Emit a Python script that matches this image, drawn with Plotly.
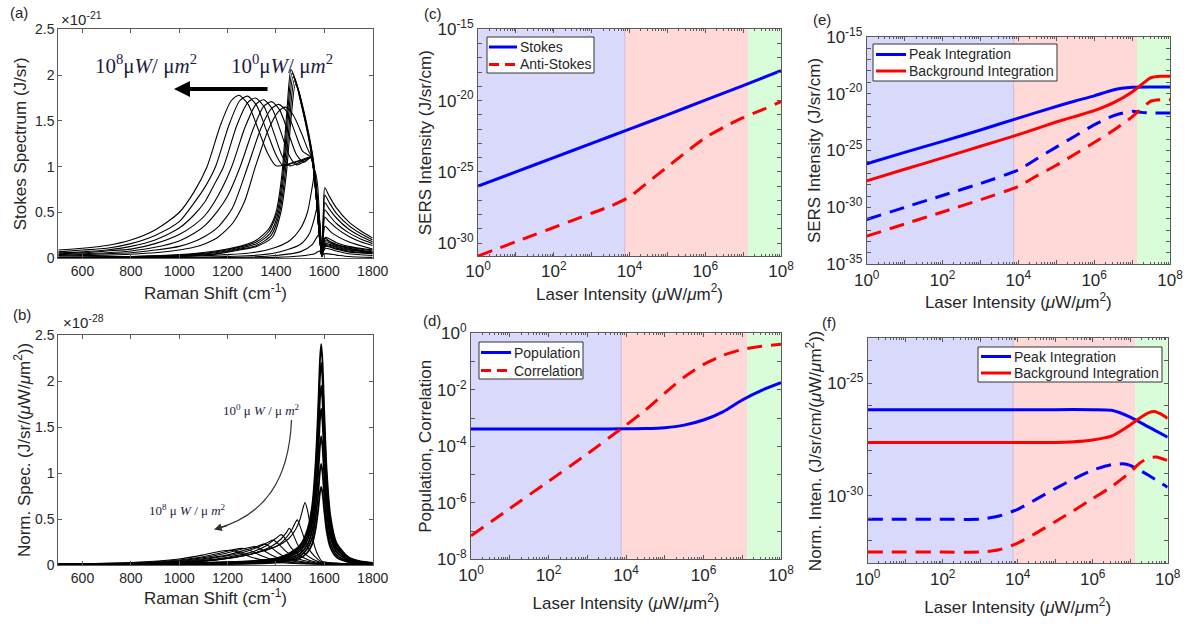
import math
import plotly.graph_objects as go

W, H = 1189, 626

# ---------------- Panel (a): Stokes spectra, y in units of 1e-21 J/sr ----------------
a1 = [(500,.09),(600,.11),(700,.14),(800,.20),(900,.31),(1000,.50),(1060,.72),(1115,1.0),(1170,1.45),(1215,1.72),(1247,1.78),(1285,1.68),(1325,1.42),(1365,1.15),(1400,1.01),(1450,1.03),(1500,1.07),(1545,1.1),(1562,0.8),(1578,0.3),(1590,0.02),(1597,0.1),(1605,0.13),(1650,0.1),(1700,0.07),(1800,0.05)]
a2 = [(500,.07),(600,.09),(700,.11),(800,.16),(900,.25),(1000,.40),(1060,.6),(1107,0.78),(1150,1.0),(1205,1.45),(1250,1.72),(1282,1.77),(1320,1.67),(1360,1.4),(1400,1.13),(1430,1.01),(1470,1.04),(1510,1.07),(1545,1.1),(1562,0.8),(1578,0.3),(1590,0.02),(1597,0.11),(1605,0.14),(1650,0.11),(1700,0.08),(1800,0.05)]
a3 = [(500,.06),(600,.07),(700,.09),(800,.13),(900,.2),(1000,.33),(1060,.47),(1107,.62),(1140,.78),(1183,1.0),(1238,1.45),(1283,1.7),(1315,1.75),(1352,1.65),(1390,1.38),(1425,1.12),(1455,1.01),(1500,1.05),(1545,1.1),(1562,0.8),(1578,0.3),(1590,0.02),(1597,0.12),(1605,0.15),(1650,0.12),(1700,0.09),(1800,0.06)]
a4 = [(500,.05),(600,.06),(700,.08),(800,.1),(900,.16),(1000,.26),(1060,.36),(1107,.47),(1160,.68),(1217,1.0),(1272,1.43),(1317,1.68),(1349,1.73),(1385,1.63),(1420,1.38),(1455,1.12),(1485,1.02),(1520,1.06),(1545,1.1),(1562,0.8),(1578,0.3),(1590,0.02),(1597,0.13),(1605,0.16),(1650,0.13),(1700,0.1),(1800,0.06)]
a5 = [(500,.04),(600,.05),(700,.06),(800,.08),(900,.12),(1000,.19),(1060,.27),(1107,.36),(1160,.52),(1200,.68),(1252,1.0),(1307,1.42),(1350,1.66),(1382,1.71),(1415,1.62),(1450,1.38),(1485,1.13),(1515,1.05),(1545,1.1),(1562,0.8),(1578,0.3),(1590,0.02),(1597,0.14),(1605,0.18),(1650,0.14),(1700,0.11),(1800,0.07)]
a6 = [(500,.03),(600,.04),(700,.05),(800,.06),(900,.09),(1000,.13),(1060,.18),(1107,.24),(1160,.34),(1220,.55),(1283,1.0),(1338,1.42),(1380,1.63),(1412,1.68),(1445,1.6),(1478,1.38),(1510,1.17),(1545,1.1),(1562,0.8),(1578,0.3),(1590,0.02),(1597,0.16),(1605,0.2),(1650,0.15),(1700,0.12),(1800,0.08)]
a7 = [(500,.025),(600,.03),(700,.035),(800,.045),(900,.06),(1000,.09),(1060,.12),(1107,.16),(1160,.23),(1220,.38),(1270,.62),(1315,1.0),(1368,1.4),(1410,1.6),(1440,1.65),(1470,1.57),(1505,1.37),(1530,1.2),(1548,1.1),(1563,0.8),(1578,0.3),(1590,0.02),(1597,0.18),(1605,0.23),(1650,0.17),(1700,0.13),(1800,0.09)]
a8 = [(500,.01),(800,.02),(1000,.04),(1150,.08),(1250,.13),(1320,.2),(1370,.32),(1400,.5),(1424,.9),(1445,1.6),(1462,2.06),(1480,1.95),(1500,1.73),(1520,1.5),(1541,1.22),(1556,.95),(1569,.64),(1580,.3),(1590,.03),(1596,.5),(1602,.77),(1620,.68),(1650,.55),(1700,.4),(1750,.3),(1800,.22)]
a9 = [(500,.01),(800,.02),(1000,.035),(1150,.07),(1250,.12),(1320,.18),(1370,.29),(1405,.5),(1428,.9),(1449,1.6),(1466,2.02),(1484,1.92),(1504,1.7),(1524,1.47),(1544,1.2),(1558,.94),(1570,.63),(1581,.3),(1590,.03),(1596,.45),(1602,.69),(1620,.61),(1650,.49),(1700,.36),(1750,.27),(1800,.2)]
a10 = [(500,.008),(800,.018),(1000,.03),(1150,.06),(1250,.11),(1320,.16),(1375,.27),(1410,.5),(1432,.9),(1453,1.58),(1470,1.98),(1488,1.88),(1508,1.66),(1528,1.43),(1547,1.17),(1560,.92),(1571,.62),(1582,.3),(1590,.03),(1596,.4),(1602,.61),(1620,.54),(1650,.44),(1700,.32),(1750,.24),(1800,.18)]
a11 = [(500,.007),(800,.015),(1000,.027),(1150,.05),(1250,.1),(1320,.14),(1380,.25),(1415,.5),(1437,.9),(1458,1.56),(1475,1.94),(1492,1.85),(1512,1.63),(1531,1.4),(1550,1.14),(1562,.9),(1572,.6),(1583,.3),(1590,.03),(1596,.35),(1602,.53),(1620,.47),(1650,.38),(1700,.28),(1750,.21),(1800,.16)]
a12 = [(500,.006),(800,.013),(1000,.024),(1150,.045),(1250,.09),(1320,.13),(1385,.23),(1420,.5),(1442,.9),(1463,1.54),(1480,1.9),(1497,1.8),(1516,1.6),(1535,1.37),(1552,1.12),(1564,.88),(1574,.58),(1584,.3),(1590,.03),(1596,.3),(1602,.45),(1620,.4),(1650,.33),(1700,.24),(1750,.18),(1800,.14)]
a13 = [(500,.005),(1000,.02),(1300,.06),(1400,.12),(1460,.2),(1500,.32),(1530,.5),(1550,.78),(1562,.95),(1572,.8),(1582,.35),(1590,.03),(1596,.25),(1603,.35),(1630,.28),(1700,.18),(1800,.1)]
a14 = [(500,.003),(1000,.01),(1300,.03),(1400,.06),(1500,.15),(1540,.28),(1560,.45),(1570,.55),(1580,.4),(1590,.03),(1596,.16),(1603,.22),(1630,.17),(1700,.11),(1800,.06)]
a15 = [(500,.002),(1000,.006),(1300,.015),(1400,.03),(1500,.07),(1550,.15),(1575,.25),(1584,.15),(1591,.02),(1597,.08),(1605,.11),(1650,.08),(1700,.05),(1800,.03)]
a16 = [(500,.001),(1000,.003),(1300,.006),(1400,.01),(1500,.025),(1560,.05),(1580,.08),(1590,.03),(1600,.05),(1650,.035),(1700,.02),(1800,.01)]

# ---------------- Panel (b): normalised spectra, y in units of 1e-28 ----------------
b_spike_x = [500,800,1000,1200,1300,1400,1450,1500,1530,1550,1565,1575,1582,1587,1592,1600,1610,1625,1650,1700,1750,1800]
b1 = [.007,.012,.019,.031,.043,.072,.12,.216,.384,.648,1.15,1.73,2.23,2.4,2.23,1.63,1.01,.53,.24,.084,.038,.024]
b2 = [.0066,.011,.018,.029,.04,.066,.11,.2,.35,.59,1.06,1.58,2.05,2.2,2.05,1.5,.92,.48,.22,.077,.035,.022]
b3 = [.006,.01,.016,.025,.035,.059,.098,.176,.31,.53,.94,1.4,1.81,1.95,1.81,1.33,.82,.43,.195,.068,.031,.02]
b4 = [.005,.0085,.014,.022,.031,.051,.085,.153,.27,.46,.82,1.22,1.58,1.7,1.58,1.16,.71,.37,.17,.06,.027,.017]
b5 = [.004,.007,.011,.018,.025,.042,.07,.126,.22,.38,.67,1.0,1.3,1.4,1.3,.95,.59,.31,.14,.049,.022,.014]
b6 = [.0033,.0055,.009,.014,.02,.033,.055,.1,.18,.3,.53,.79,1.02,1.1,1.02,.75,.46,.24,.11,.039,.018,.011]
b7 = [.0026,.0043,.007,.011,.015,.026,.043,.077,.136,.23,.41,.61,.79,.85,.79,.58,.36,.19,.085,.03,.014,.0085]
b8 = [(500,.005),(800,.012),(1000,.025),(1100,.04),(1200,.07),(1300,.12),(1400,.2),(1450,.28),(1480,.38),(1500,.5),(1512,.62),(1520,.68),(1530,.6),(1545,.38),(1560,.2),(1575,.1),(1590,.04),(1610,.03),(1650,.02),(1700,.012),(1800,.006)]
b9 = [(500,.005),(800,.012),(1000,.025),(1100,.04),(1200,.07),(1300,.12),(1400,.2),(1440,.29),(1465,.38),(1480,.46),(1488,.49),(1500,.42),(1520,.27),(1545,.14),(1570,.07),(1590,.03),(1610,.025),(1650,.018),(1700,.01),(1800,.005)]
b10 = [(500,.005),(800,.012),(1000,.027),(1100,.045),(1200,.075),(1300,.12),(1380,.2),(1420,.28),(1445,.36),(1455,.40),(1470,.34),(1490,.22),(1520,.12),(1555,.06),(1590,.025),(1650,.015),(1800,.005)]
b11 = [(500,.005),(800,.013),(1000,.03),(1100,.05),(1200,.085),(1300,.14),(1360,.21),(1400,.29),(1422,.33),(1440,.28),(1465,.18),(1500,.1),(1540,.05),(1590,.02),(1650,.012),(1800,.005)]
b12 = [(500,.006),(800,.015),(1000,.035),(1100,.06),(1200,.1),(1280,.15),(1340,.21),(1370,.25),(1388,.27),(1410,.23),(1440,.15),(1480,.08),(1530,.04),(1590,.015),(1800,.004)]
b13 = [(500,.007),(800,.018),(1000,.04),(1100,.068),(1200,.11),(1270,.16),(1320,.2),(1352,.23),(1375,.2),(1410,.13),(1450,.07),(1510,.035),(1590,.013),(1800,.004)]
b14 = [(500,.008),(800,.02),(1000,.047),(1100,.08),(1180,.12),(1240,.16),(1290,.19),(1312,.2),(1340,.17),(1380,.11),(1430,.06),(1500,.03),(1590,.012),(1800,.004)]
b15 = [(500,.009),(800,.023),(1000,.055),(1100,.09),(1170,.13),(1230,.17),(1265,.18),(1300,.15),(1340,.1),(1390,.055),(1460,.028),(1590,.01),(1800,.004)]
b16 = [(500,.01),(800,.026),(1000,.065),(1100,.11),(1170,.15),(1215,.16),(1250,.135),(1300,.085),(1360,.045),(1440,.022),(1590,.008),(1800,.003)]

# ---------------- Panels (c)-(f): log10 of laser intensity vs log10 of value ----------------
regime_edges = [7.5e3, 1.35e7]   # blue | red | green boundaries (uW/um^2)

c_stokes_lx = [0,1,2,3,4,5,6,7,8]
c_stokes_ly = [-26.0,-25.0,-24.0,-23.0,-22.0,-21.0,-19.97,-18.95,-17.9]
c_anti_lx = [0,0.5,1,1.5,2,2.5,3,3.5,4,4.5,5,5.5,6,6.5,7,7.5,8]
c_anti_ly = [-30.9,-30.4,-29.9,-29.4,-28.9,-28.4,-27.9,-27.4,-26.75,-25.7,-24.65,-23.6,-22.6,-21.85,-21.2,-20.65,-20.07]

d_pop_lx = [0,1,2,3,4,4.5,5,5.5,6,6.5,7,7.5,8]
d_pop_ly = [-3.39,-3.39,-3.39,-3.39,-3.38,-3.37,-3.34,-3.25,-3.07,-2.78,-2.36,-2.02,-1.75]
d_cor_lx = [0,1,2,3,4,4.5,5,5.5,6,6.5,7,7.5,8]
d_cor_ly = [-7.17,-6.2,-5.24,-4.27,-3.25,-2.72,-2.12,-1.55,-1.1,-0.78,-0.57,-0.46,-0.39]

e_peak_lx = [0,1,2,3,4,5,5.5,6,6.5,7,7.5,8]
e_peak_ly = [-26.17,-25.17,-24.2,-23.2,-22.15,-21.13,-20.65,-20.2,-19.68,-19.45,-19.42,-19.42]
e_bg_lx = [0,1,2,3,4,4.5,5,5.5,6,6.5,7,7.25,7.5,7.75,8]
e_bg_ly = [-27.67,-26.65,-25.65,-24.63,-23.6,-23.05,-22.5,-22.0,-21.5,-20.82,-19.85,-19.2,-18.6,-18.47,-18.48]
e_peakd_lx = [0,1,2,3,4,4.5,5,5.5,6,6.5,7,7.25,7.5,8]
e_peakd_ly = [-31.06,-30.0,-28.95,-27.9,-26.7,-25.7,-24.7,-23.72,-22.75,-21.95,-21.55,-21.65,-21.7,-21.7]
e_bgd_lx = [0,1,2,3,4,4.5,5,5.5,6,6.5,7,7.25,7.5,7.75,8]
e_bgd_ly = [-32.53,-31.46,-30.4,-29.33,-28.15,-27.2,-26.3,-25.3,-24.3,-23.25,-22.05,-21.3,-20.65,-20.53,-20.53]

f_peak_lx = [0,2,4,5,6,6.5,7,7.5,8]
f_peak_ly = [-26.17,-26.17,-26.17,-26.17,-26.17,-26.2,-26.5,-26.95,-27.4]
f_bg_lx = [0,2,4,5,5.5,6,6.5,7,7.25,7.5,7.65,7.8,8]
f_bg_ly = [-27.63,-27.63,-27.63,-27.63,-27.6,-27.52,-27.35,-26.85,-26.55,-26.3,-26.25,-26.35,-26.56]
f_peakd_lx = [0,1,2,3,3.5,4,4.5,5,5.5,6,6.5,6.8,7,7.5,8]
f_peakd_ly = [-31.04,-31.04,-31.04,-31.04,-30.9,-30.6,-30.15,-29.68,-29.25,-28.86,-28.62,-28.58,-28.65,-29.1,-29.62]
f_bgd_lx = [0,1,2,3,3.5,4,4.5,5,5.5,6,6.5,7,7.25,7.5,7.7,8]
f_bgd_ly = [-32.5,-32.5,-32.5,-32.5,-32.4,-32.1,-31.65,-31.15,-30.65,-30.12,-29.6,-28.95,-28.55,-28.32,-28.28,-28.44]

# legend entries (text, colour, dashed?)
c_legend = [("Stokes", "blue", False), ("Anti-Stokes", "red", True)]
d_legend = [("Population", "blue", False), ("Correlation", "red", True)]
e_legend = [("Peak Integration", "blue", False), ("Background Integration", "red", False)]
f_legend = [("Peak Integration", "blue", False), ("Background Integration", "red", False)]

# ---------------- helpers ----------------
FONT = "Liberation Sans, Arial, sans-serif"
SERIF = "Liberation Serif, Times New Roman, serif"
TXT = "#262626"
AXC = "#5a5a5a"
COL = {"blue": "rgb(0,0,255)", "red": "rgb(255,0,0)"}
DASH = "15px,9px"
TICK_SIZE = 14
LOGTICK_SIZE = 17
TITLE_SIZE = 17

def px(x):
    return x / W

def py(y):
    return 1 - y / H

fig = go.Figure()

def spec_trace(pts, ax, width=1.1):
    xs = [p[0] for p in pts]
    ys = [p[1] for p in pts]
    return go.Scatter(x=xs, y=ys, mode="lines", line=dict(color="black", width=width, shape="spline", smoothing=0.7),
                      xaxis="x" + ax, yaxis="y" + ax, showlegend=False, hoverinfo="skip")

for c in [a16, a15, a14, a13, a12, a11, a10, a9, a8, a7, a6, a5, a4, a3, a2, a1]:
    fig.add_trace(spec_trace(c, ""))
for c in [b16, b15, b14, b13, b12, b11, b10, b9, b8]:
    fig.add_trace(spec_trace(c, "2"))
for c in [b7, b6, b5, b4, b3, b2, b1]:
    fig.add_trace(spec_trace(list(zip(b_spike_x, c)), "2", width=1.8))

def log_line(lx, ly, ax, color, dashed, name):
    return go.Scatter(x=[10 ** v for v in lx], y=[10 ** v for v in ly], mode="lines", name=name,
                      line=dict(color=COL[color], width=3, dash=DASH if dashed else "solid",
                                shape="spline", smoothing=0.6),
                      xaxis="x" + ax, yaxis="y" + ax, showlegend=False, hoverinfo="skip")

fig.add_trace(log_line(c_stokes_lx, c_stokes_ly, "3", "blue", False, "Stokes"))
fig.add_trace(log_line(c_anti_lx, c_anti_ly, "3", "red", True, "Anti-Stokes"))
fig.add_trace(log_line(d_pop_lx, d_pop_ly, "4", "blue", False, "Population"))
fig.add_trace(log_line(d_cor_lx, d_cor_ly, "4", "red", True, "Correlation"))
fig.add_trace(log_line(e_peak_lx, e_peak_ly, "5", "blue", False, "Peak Integration"))
fig.add_trace(log_line(e_bg_lx, e_bg_ly, "5", "red", False, "Background Integration"))
fig.add_trace(log_line(e_peakd_lx, e_peakd_ly, "5", "blue", True, "Peak Integration (anti-Stokes)"))
fig.add_trace(log_line(e_bgd_lx, e_bgd_ly, "5", "red", True, "Background Integration (anti-Stokes)"))
fig.add_trace(log_line(f_peak_lx, f_peak_ly, "6", "blue", False, "Peak Integration"))
fig.add_trace(log_line(f_bg_lx, f_bg_ly, "6", "red", False, "Background Integration"))
fig.add_trace(log_line(f_peakd_lx, f_peakd_ly, "6", "blue", True, "Peak Integration (anti-Stokes)"))
fig.add_trace(log_line(f_bgd_lx, f_bgd_ly, "6", "red", True, "Background Integration (anti-Stokes)"))

# ---------------- axes ----------------
def base_axis(domain, title, standoff, tsize=TICK_SIZE):
    return dict(domain=domain, showline=True, linecolor=AXC, linewidth=1, mirror="ticks",
                ticks="inside", ticklen=4, tickcolor=AXC, showgrid=False, zeroline=False,
                automargin=False, tickfont=dict(family=FONT, size=tsize, color=TXT),
                title=dict(text=title, font=dict(family=FONT, size=TITLE_SIZE, color=TXT), standoff=standoff))

raman_ticks = [600, 800, 1000, 1200, 1400, 1600, 1800]
lin_ticks = [0, 0.5, 1, 1.5, 2, 2.5]
lin_text = ["0", "0.5", "1", "1.5", "2", "2.5"]

def sup(e):
    return "10<sup>%d</sup>" % e

xlog_vals = [10 ** k for k in range(0, 9)]
xlog_text = [sup(k) if k % 2 == 0 else "" for k in range(0, 9)]
xlog_minor = [m * 10 ** k for k in range(0, 8) for m in range(2, 10)]
LASER = "Laser Intensity (<i>μ</i>W/<i>μ</i>m<sup>2</sup>)"

def xlog_axis(domain, standoff):
    d = base_axis(domain, LASER, standoff, LOGTICK_SIZE)
    d.update(type="log", range=[0, 8], tickmode="array", tickvals=xlog_vals, ticktext=xlog_text,
             minor=dict(tickmode="array", tickvals=xlog_minor, ticks="inside", ticklen=2, tickcolor=AXC))
    return d

def ylog_axis(domain, title, lo, hi, labelled, standoff):
    d = base_axis(domain, title, standoff, LOGTICK_SIZE)
    vals = [10.0 ** k for k in range(lo, hi + 1)]
    text = [sup(k) if k in labelled else "" for k in range(lo, hi + 1)]
    d.update(type="log", tickmode="array", tickvals=vals, ticktext=text)
    return d

xa = base_axis([px(58.3), px(372.7)], "Raman Shift (cm<sup>-1</sup>)", 9)
xa.update(range=[500, 1800], tickvals=raman_ticks, anchor="y")
ya = base_axis([py(258.3), py(29.3)], "Stokes Spectrum (J/sr)", 4)
ya.update(range=[0, 2.5], tickvals=lin_ticks, ticktext=lin_text, anchor="x")

xb = base_axis([px(58.3), px(372.7)], "Raman Shift (cm<sup>-1</sup>)", 3)
xb.update(range=[500, 1800], tickvals=raman_ticks, anchor="y2")
yb = base_axis([py(565), py(335)], "Norm. Spec. (J/sr/(<i>μ</i>W/<i>μ</i>m<sup>2</sup>))", 0)
yb.update(range=[0, 2.5], tickvals=lin_ticks, ticktext=lin_text, anchor="x2")

xc = xlog_axis([px(478), px(781)], 6); xc.update(anchor="y3")
yc = ylog_axis([py(256), py(29.3)], "SERS Intensity (J/sr/cm)", -31, -15, [-30, -25, -20, -15], 1)
yc.update(range=[-30.9, -15], anchor="x3")

xd = xlog_axis([px(471), px(781)], 13); xd.update(anchor="y4")
yd = ylog_axis([py(559.3), py(333.3)], "Population, Correlation", -8, 0, [-8, -6, -4, -2, 0], 1)
yd.update(range=[-8, 0], anchor="x4")

xe = xlog_axis([px(866.7), px(1170)], 6); xe.update(anchor="y5")
ye = ylog_axis([py(264.3), py(36.7)], "SERS Intensity (J/sr/cm)", -35, -15, [-35, -30, -25, -20, -15], 1)
ye.update(range=[-35, -15], anchor="x5")

xf = xlog_axis([px(867.7), px(1167.7)], 13); xf.update(anchor="y6")
yf = ylog_axis([py(563.3), py(338.3)], "Norm. Inten. (J/sr/cm/(<i>μ</i>W/<i>μ</i>m<sup>2</sup>))", -33, -23, [-30, -25], 1)
yf.update(range=[-33, -23], anchor="x6")

# ---------------- regime shading ----------------
shapes = []
fills = ["rgb(217,217,252)", "rgb(255,216,216)", "rgb(216,253,216)"]
for ax in ["3", "4", "5", "6"]:
    edges = [0.0] + [math.log10(v) / 8.0 for v in regime_edges] + [1.0]
    for i in range(3):
        shapes.append(dict(type="rect", xref="x%s domain" % ax, yref="y%s domain" % ax,
                           x0=edges[i], x1=edges[i + 1], y0=0, y1=1, fillcolor=fills[i],
                           line=dict(width=0), layer="below"))
    shapes.append(dict(type="line", xref="x%s domain" % ax, yref="y%s domain" % ax,
                       x0=edges[1], x1=edges[1], y0=0, y1=1, line=dict(color="rgb(205,185,225)", width=1),
                       layer="below"))

# curved arrow in panel (b)
shapes.append(dict(type="path", xref="paper", yref="paper",
                   path="M %f,%f C %f,%f %f,%f %f,%f" % (px(291.5), py(420), px(289), py(480),
                                                       px(265), py(515), px(217), py(528.5)),
                   line=dict(color="#333333", width=1.2)))

# ---------------- annotations ----------------
ann = []
def label(x, y, text, size=15, xanchor="center", family=FONT, color=TXT):
    ann.append(dict(x=px(x), y=py(y), xref="paper", yref="paper", text=text, showarrow=False,
                    xanchor=xanchor, yanchor="middle", font=dict(family=family, size=size, color=color)))

# manual legends (box, line samples, texts), positioned in pixels
def legend_block(x0, y0, x1, y1, entries, line_x0, line_x1, rows):
    shapes.append(dict(type="rect", xref="paper", yref="paper", x0=px(x0), x1=px(x1), y0=py(y1), y1=py(y0),
                       fillcolor="white", line=dict(color="#333333", width=1)))
    for (text, color, dashed), yy in zip(entries, rows):
        shapes.append(dict(type="line", xref="paper", yref="paper", x0=px(line_x0), x1=px(line_x1),
                           y0=py(yy), y1=py(yy),
                           line=dict(color=COL[color], width=3, dash="10px,6px" if dashed else "solid")))
        label(line_x1 + 1, yy, text, size=14, xanchor="left")

legend_block(487, 37, 594, 73, c_legend, 489, 517, [47, 64.5])
legend_block(479, 342, 583, 379, d_legend, 481, 511, [352.5, 370.5])
legend_block(873, 44, 1057, 81, e_legend, 876, 906, [54.5, 71])
legend_block(978, 347, 1162, 382, f_legend, 981, 1011, [356.5, 373])

label(19, 12, "(a)")
label(22, 314, "(b)")
label(433, 14, "(c)")
label(432, 320, "(d)")
label(822, 19, "(e)")
label(829, 322, "(f)")
label(59, 18, "×10<sup>-21</sup>", xanchor="left")
label(61, 321, "×10<sup>-28</sup>", xanchor="left")

NAVY = "#1b1b45"
label(146, 65, "10<sup>8</sup>μ<i>W</i>/ μ<i>m</i><sup>2</sup>", size=21, family=SERIF, color=NAVY)
label(282, 65, "10<sup>0</sup>μ<i>W</i>/ μ<i>m</i><sup>2</sup>", size=21, family=SERIF, color=NAVY)
label(261, 410, "10<sup>0</sup> μ <i>W</i> / μ <i>m</i><sup>2</sup>", size=13, family=SERIF, color=NAVY)
label(187, 510, "10<sup>8</sup> μ <i>W</i> / μ <i>m</i><sup>2</sup>", size=13, family=SERIF, color=NAVY)

ann.append(dict(x=px(174), y=py(89), xref="paper", yref="paper", ax=95, ay=0, text="", showarrow=True,
                arrowhead=2, arrowwidth=4, arrowsize=0.8, arrowcolor="black"))
ann.append(dict(x=px(214), y=py(529.5), xref="paper", yref="paper", ax=14, ay=-4, text="", showarrow=True,
                arrowhead=2, arrowwidth=1.2, arrowsize=1.3, arrowcolor="#333333"))

fig.update_layout(
    width=W, height=H, margin=dict(l=0, r=0, t=0, b=0),
    paper_bgcolor="white", plot_bgcolor="white",
    font=dict(family=FONT, size=14, color=TXT),
    xaxis=xa, yaxis=ya, xaxis2=xb, yaxis2=yb, xaxis3=xc, yaxis3=yc,
    xaxis4=xd, yaxis4=yd, xaxis5=xe, yaxis5=ye, xaxis6=xf, yaxis6=yf,
    shapes=shapes, annotations=ann, showlegend=False,
)

fig.write_html("out.html")
